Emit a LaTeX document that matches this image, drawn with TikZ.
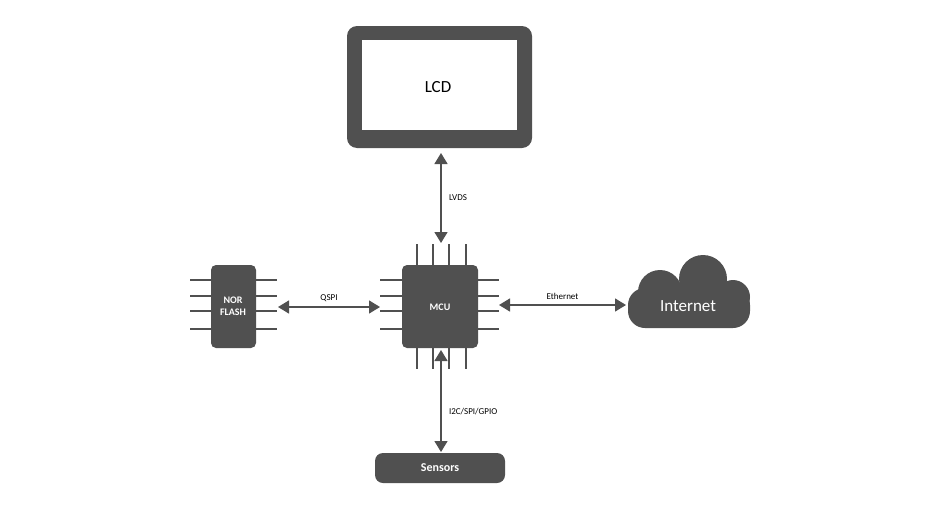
\documentclass[tikz,border=0pt]{standalone}
\usepackage{fontspec}
\setmainfont{Carlito}
\usetikzlibrary{arrows.meta}
\definecolor{dk}{HTML}{505050}
\begin{document}
\begin{tikzpicture}[x=1pt,y=-1pt,
  chip/.style={fill=dk,rounded corners=5pt},
  pin/.style={dk,line width=2.6pt},
  link/.style={dk,line width=1.4pt,{Triangle[width=13pt,length=11pt]}-{Triangle[width=13pt,length=11pt]}},
  lbl/.style={font=\fontsize{9}{10}\selectfont,text=black},
  wt/.style={text=white,font=\bfseries\fontsize{10}{12}\selectfont,align=center}]
\useasboundingbox (0,0) rectangle (936,506);
% LCD
\fill[dk,rounded corners=10pt] (347,26) rectangle (532,148);
\fill[white] (362,40) rectangle (517,130);
\node[font=\fontsize{17}{20}\selectfont] (lcd) at (438,87) {LCD};
\coordinate (lcdb) at (441,150);
% MCU
\foreach \p in {417,433,449,466}{\draw[pin] (\p,244)--(\p,265); \draw[pin] (\p,348)--(\p,369);}
\foreach \p in {280,296,311,329}{\draw[pin] (380,\p)--(402,\p); \draw[pin] (478,\p)--(499,\p);}
\fill[chip] (402,265) rectangle (478,348);
\node[wt] (mcu) at (440,307) {MCU};
% NOR
\foreach \p in {280,296,311,329}{\draw[pin] (190,\p)--(211,\p); \draw[pin] (256,\p)--(277,\p);}
\fill[chip] (211,265) rectangle (256,348);
\node[wt,font=\bfseries\fontsize{10}{12}\selectfont] (nor) at (233,306) {NOR\\FLASH};
% Cloud
\begin{scope}[dk]
\fill[rounded corners=17pt] (628,288) rectangle (750,328);
\fill (660,292) circle (22);
\fill (703,279) circle (24);
\fill (733,297) circle (17);
\end{scope}
\node[text=white,font=\fontsize{17}{20}\selectfont] (net) at (688,306) {Internet};
% Sensors
\fill[dk,rounded corners=8pt] (375,453) rectangle (505,483);
\node[wt,font=\bfseries\fontsize{12}{14}\selectfont] (sen) at (440,468) {Sensors};
% connectors
\coordinate (a1) at (441,153); \coordinate (a2) at (441,243);
\draw[link] (a1)--(a2) node[lbl,midway,right=4pt] {LVDS};
\coordinate (b1) at (441,350); \coordinate (b2) at (441,452);
\draw[link] (b1)--(b2) node[lbl,pos=0.6,right=4pt] {I2C/SPI/GPIO};
\coordinate (q1) at (278,307); \coordinate (q2) at (380,307);
\draw[link] (q1)--(q2) node[lbl,midway,above=1pt] {QSPI};
\coordinate (e1) at (499,305); \coordinate (e2) at (626,305);
\draw[link] (e1)--(e2) node[lbl,midway,above=1pt] {Ethernet};
\end{tikzpicture}
\end{document}
